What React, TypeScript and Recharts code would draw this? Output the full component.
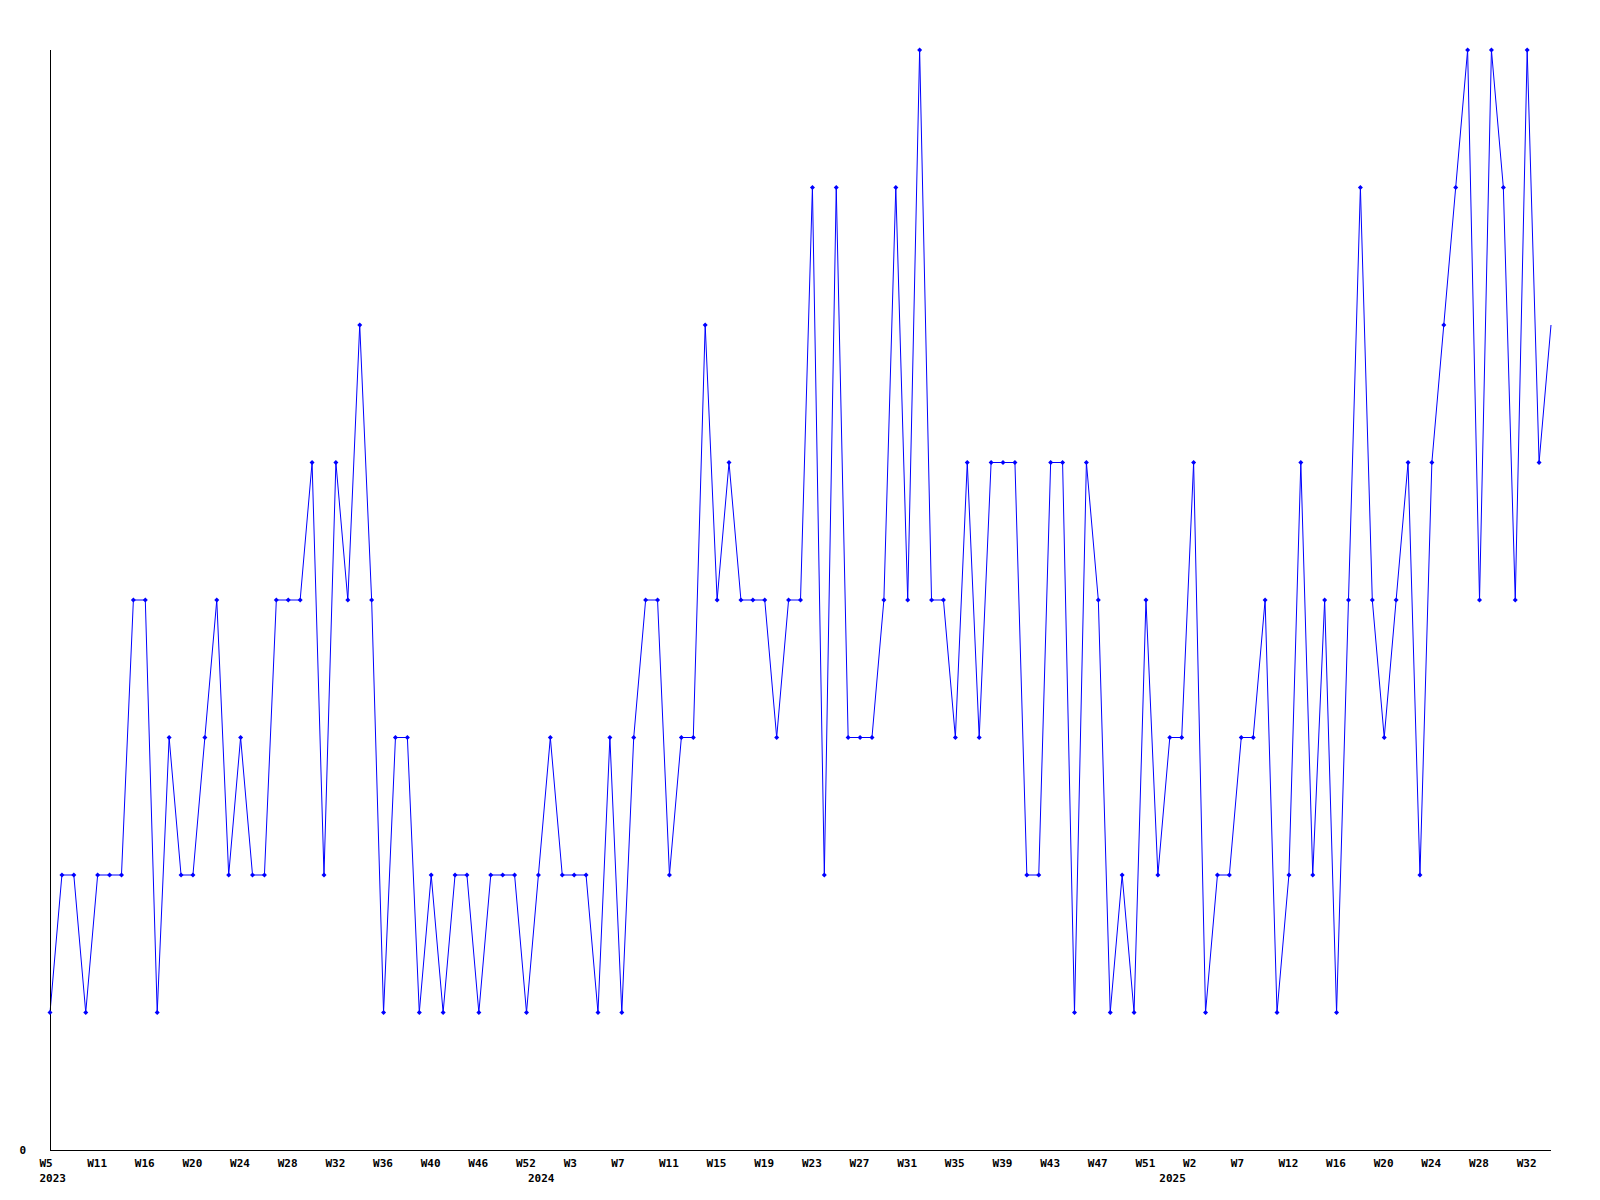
import React from 'react';
import { LineChart, Line, XAxis, YAxis } from 'recharts';

// week numbers as printed under the axis, one per sample
const weeks2023 = [5, 6, 8, 9, 11, 12, 13, 15, 16, 17, 18, 19, 20, 21, 22, 23, 24, 25, 26, 27, 28, 29, 30, 31, 32, 33, 34, 35, 36, 37, 38, 39, 40, 41, 43, 44, 46, 47, 49, 50, 52];
const weeks2024 = [0, 1, 2, 3, 4, 5, 6, 7, 8, 9, 10, 11, 12, 13, 14, 15, 16, 17, 18, 19, 20, 21, 22, 23, 24, 25, 26, 27, 28, 29, 30, 31, 32, 33, 34, 35, 36, 37, 38, 39, 40, 41, 42, 43, 44, 45, 46, 47, 48, 49, 50, 51, 52];
const weeks2025 = [0, 1, 2, 3, 4, 6, 7, 8, 9, 11, 12, 13, 14, 15, 16, 17, 18, 19, 20, 21, 22, 23, 24, 25, 26, 27, 28, 29, 30, 31, 32, 33, 34];

const counts = [
  1, 2, 2, 1, 2, 2, 2, 4, 4, 1,
  3, 2, 2, 3, 4, 2, 3, 2, 2, 4,
  4, 4, 5, 2, 5, 4, 6, 4, 1, 3,
  3, 1, 2, 1, 2, 2, 1, 2, 2, 2,
  1, 2, 3, 2, 2, 2, 1, 3, 1, 3,
  4, 4, 2, 3, 3, 6, 4, 5, 4, 4,
  4, 3, 4, 4, 7, 2, 7, 3, 3, 3,
  4, 7, 4, 8, 4, 4, 3, 5, 3, 5,
  5, 5, 2, 2, 5, 5, 1, 5, 4, 1,
  2, 1, 4, 2, 3, 3, 5, 1, 2, 2,
  3, 3, 4, 1, 2, 5, 2, 4, 1, 4,
  7, 4, 3, 4, 5, 2, 5, 6, 7, 8,
  4, 8, 7, 4, 8, 5, 6,
];

const yTicks = [0];
const yMax = 8;

const periods = [
  ...weeks2023.map(w => ({ year: 2023, week: w })),
  ...weeks2024.map(w => ({ year: 2024, week: w })),
  ...weeks2025.map(w => ({ year: 2025, week: w })),
];

const data = periods.map((p, i) => ({
  key: `${p.year}-W${p.week}`,
  year: p.year,
  week: `W${p.week}`,
  value: counts[i],
}));

const FONT = '"DejaVu Sans Mono", monospace';

const WeekTick = (props: any) => {
  const { x, y, index } = props;
  const row = data[index];
  if (!row) return null;
  const showWeek = index % 4 === 0;
  const showYear = index === 0 || data[index - 1].year !== row.year;
  return (
    <g>
      {showWeek && (
        <text x={x} y={y} dx={-10.5} dy={17} textAnchor="start" fontFamily={FONT} fontWeight="bold" fontSize={11} fill="#000">
          {row.week}
        </text>
      )}
      {showYear && (
        <text x={x} y={y} dx={-10.5} dy={32} textAnchor="start" fontFamily={FONT} fontWeight="bold" fontSize={11} fill="#000">
          {row.year}
        </text>
      )}
    </g>
  );
};

const CountTick = (props: any) => {
  const { x, y, payload } = props;
  return (
    <text x={x} y={y} dx={-24} dy={4} textAnchor="end" fontFamily={FONT} fontWeight="bold" fontSize={11} fill="#000">
      {payload.value}
    </text>
  );
};

const Marker = (props: any) => {
  const { cx, cy, index } = props;
  if (index === data.length - 1 || cx == null) return <g key={`m-${index}`} />;
  const r = 2.5;
  return (
    <polygon
      key={`m-${index}`}
      points={`${cx - r},${cy} ${cx},${cy - r} ${cx + r},${cy} ${cx},${cy + r}`}
      fill="#0000ff"
    />
  );
};

export default function App() {
  return (
    <div style={{ position: 'fixed', top: 0, left: 0, background: '#fff' }}>
      <LineChart width={1600} height={1200} data={data} margin={{ top: 50, right: 49, bottom: 0, left: 0 }}>
        <XAxis
          dataKey="key"
          interval={0}
          height={50}
          tickLine={false}
          tickSize={0}
          tickMargin={0}
          axisLine={{ stroke: '#000', strokeWidth: 1, shapeRendering: 'crispEdges' }}
          tick={<WeekTick />}
        />
        <YAxis
          width={50}
          domain={[0, yMax]}
          ticks={yTicks}
          tickLine={false}
          tickSize={0}
          tickMargin={0}
          axisLine={{ stroke: '#000', strokeWidth: 1, shapeRendering: 'crispEdges' }}
          tick={<CountTick />}
        />
        <Line
          type="linear"
          dataKey="value"
          stroke="#0000ff"
          strokeWidth={1}
          dot={<Marker />}
          activeDot={false}
          isAnimationActive={false}
        />
      </LineChart>
    </div>
  );
}
